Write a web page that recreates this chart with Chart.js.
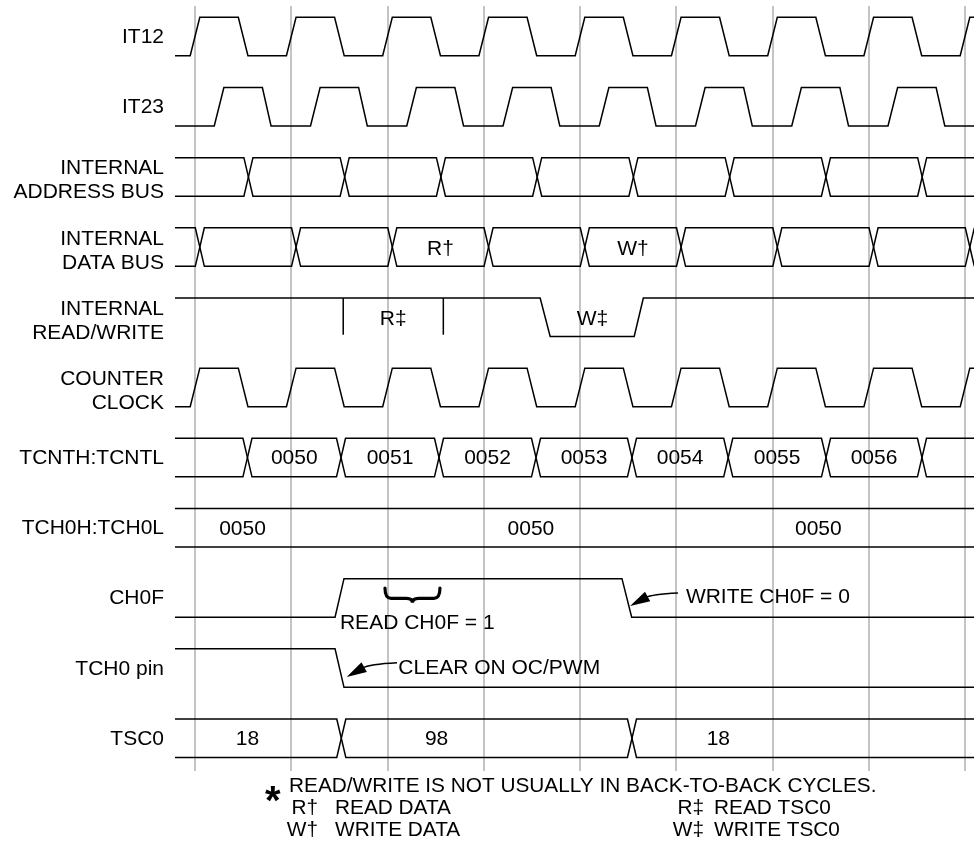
<!DOCTYPE html>
<html>
<head>
<meta charset="utf-8">
<script src="https://cdn.jsdelivr.net/npm/chart.js@4"></script>
<style>
html,body{margin:0;padding:0;background:#fff;}
canvas{display:block;}
</style>
</head>
<body>
<canvas id="c" width="977" height="852"></canvas>
<script>
// ================= DATA (time in bus cycles, levels 1 = high / 0 = low) =================
const gridCycles = [0, 1, 2, 3, 4, 5, 6, 7, 8];

const signalNames = [
  ['IT12'], ['IT23'], ['INTERNAL', 'ADDRESS BUS'], ['INTERNAL', 'DATA BUS'],
  ['INTERNAL', 'READ/WRITE'], ['COUNTER', 'CLOCK'], ['TCNTH:TCNTL'], ['TCH0H:TCH0L'],
  ['CH0F'], ['TCH0 pin'], ['TSC0']
];

// digital signals: [start, end] of each transition; the level toggles at each one
const it12Edges = [[-0.05,0.05],[0.45,0.55],[0.95,1.05],[1.45,1.55],[1.95,2.05],[2.45,2.55],[2.95,3.05],[3.45,3.55],
                   [3.95,4.05],[4.45,4.55],[4.95,5.05],[5.45,5.55],[5.95,6.05],[6.45,6.55],[6.95,7.05],[7.45,7.55],[7.95,8.05]];
const it12Start = 0;
const it23Edges = [[0.2,0.3],[0.7,0.79],[1.2,1.3],[1.7,1.79],[2.2,2.3],[2.7,2.79],[3.2,3.3],[3.7,3.79],
                   [4.2,4.3],[4.7,4.79],[5.2,5.3],[5.7,5.79],[6.2,6.3],[6.7,6.79],[7.2,7.3],[7.7,7.79]];
const it23Start = 0;
const counterClockEdges = [[-0.05,0.05],[0.45,0.55],[0.95,1.05],[1.45,1.55],[1.95,2.05],[2.45,2.55],[2.95,3.05],[3.45,3.55],
                   [3.95,4.05],[4.45,4.55],[4.95,5.05],[5.45,5.55],[5.95,6.05],[6.45,6.55],[6.95,7.05],[7.45,7.55],[7.95,8.05]];
const counterClockStart = 0;
const rwEdges = [[3.586,3.69],[4.563,4.658]];
const rwStart = 1;
const rwReadMarks = [1.54, 2.58];
const rwLabels = ['R‡', 'W‡'];
const rwLabelTimes = [2.06, 4.13];
const ch0fEdges = [[1.455,1.548],[4.436,4.537]];
const ch0fStart = 0;
const pinEdges = [[1.455,1.548]];
const pinStart = 1;

// buses: centre time of each value change
const addrChanges = [0.555, 1.555, 2.555, 3.555, 4.555, 5.555, 6.555, 7.555];
const dataChanges = [0.05, 1.05, 2.05, 3.05, 4.05, 5.05, 6.05, 7.05, 8.05];
const dataBusLabels = ['', '', 'R†', '', 'W†', '', '', ''];
const tcntChanges = [0.545, 1.517, 2.535, 3.543, 4.54, 5.54, 6.556, 7.553];
const tcntValues = ['0050', '0051', '0052', '0053', '0054', '0055', '0056'];
const tch0Changes = [];
const tch0Values = ['0050', '0050', '0050'];
const tch0LabelTimes = [0.494, 3.49, 6.476];
const tsc0Changes = [1.52, 4.54];
const tsc0Values = ['18', '98', '18'];
const tsc0LabelTimes = [0.545, 2.51, 5.437];

// callouts (time, row-level units)
const braceSpan = [1.974, 2.545];
const calloutTexts = ['READ CH0F = 1', 'WRITE CH0F = 0', 'CLEAR ON OC/PWM'];
const calloutTimes = [1.506, 5.10, 2.112];
const calloutLevels = [8.613, 8.233, 9.245];
const arrowFrom = [[5.018, 8.204], [2.099, 9.20]];
const arrowTo = [[4.52, 8.39], [1.576, 9.40]];

const footNote = 'READ/WRITE IS NOT USUALLY IN BACK-TO-BACK CYCLES.';
const footKeys = [['R†', 'READ DATA'], ['W†', 'WRITE DATA'], ['R‡', 'READ TSC0'], ['W‡', 'WRITE TSC0']];

// ================= BUILD =================
const X_MIN = -0.2078, X_MAX = 8.0935;
const Y_MIN = -0.161, Y_MAX = 10.741;
const AMP = 0.5487;     // swing of a signal, in row units
const BUS_HALF = 0.047;
const FONT = '"Liberation Sans", Arial, Helvetica, sans-serif';

const lvl = (row, level) => row + (1 - level) * AMP;

function digital(row, start, edges) {
  let L = start;
  const pts = [{x: X_MIN, y: lvl(row, L)}];
  edges.forEach(([a, b]) => {
    pts.push({x: a, y: lvl(row, L)});
    L = 1 - L;
    pts.push({x: b, y: lvl(row, L)});
  });
  pts.push({x: X_MAX, y: lvl(row, L)});
  return pts;
}
function bus(row, changes) {
  let a = 1;
  const A = [{x: X_MIN, y: lvl(row, 1)}], B = [{x: X_MIN, y: lvl(row, 0)}];
  changes.forEach(c => {
    A.push({x: c - BUS_HALF, y: lvl(row, a)});
    B.push({x: c - BUS_HALF, y: lvl(row, 1 - a)});
    a = 1 - a;
    A.push({x: c + BUS_HALF, y: lvl(row, a)});
    B.push({x: c + BUS_HALF, y: lvl(row, 1 - a)});
  });
  A.push({x: X_MAX, y: lvl(row, a)});
  B.push({x: X_MAX, y: lvl(row, 1 - a)});
  return [A, B];
}
const line = (data) => ({data, showLine: true, borderColor: '#000', borderWidth: 1.5, pointRadius: 0, fill: false, tension: 0});

const datasets = [];
datasets.push(line(digital(0, it12Start, it12Edges)));
datasets.push(line(digital(1, it23Start, it23Edges)));
bus(2, addrChanges).forEach(d => datasets.push(line(d)));
bus(3, dataChanges).forEach(d => datasets.push(line(d)));
datasets.push(line(digital(4, rwStart, rwEdges)));
rwReadMarks.forEach(t => datasets.push(line([{x: t, y: lvl(4, 1)}, {x: t, y: lvl(4, 0) - 0.025}])));
datasets.push(line(digital(5, counterClockStart, counterClockEdges)));
bus(6, tcntChanges).forEach(d => datasets.push(line(d)));
bus(7, tch0Changes).forEach(d => datasets.push(line(d)));
datasets.push(line(digital(8, ch0fStart, ch0fEdges)));
datasets.push(line(digital(9, pinStart, pinEdges)));
bus(10, tsc0Changes).forEach(d => datasets.push(line(d)));

function drawText(ctx, s, x, capY, align, size, sx) {
  ctx.save();
  ctx.font = size + 'px ' + FONT;
  ctx.fillStyle = '#000';
  ctx.textBaseline = 'alphabetic';
  ctx.textAlign = align;
  ctx.translate(x, capY + 0.358 * size);
  if (sx) ctx.scale(sx, 1);
  ctx.fillText(s, 0, 0);
  ctx.restore();
}

const annotate = {
  id: 'annotate',
  afterDatasetsDraw(chart) {
    const {ctx, scales: {x, y}} = chart;
    const X = v => x.getPixelForValue(v), Y = v => y.getPixelForValue(v);
    const mid = row => Y(row + AMP / 2);
    ctx.save();

    // row names
    signalNames.forEach((lines, i) => {
      const offs = lines.length === 1 ? [-1] : [-10, 14];
      lines.forEach((s, j) => drawText(ctx, s, 164, mid(i) + offs[j], 'right', 21));
    });

    // bus values
    dataBusLabels.forEach((s, i) => { if (s) drawText(ctx, s, X((dataChanges[i] + dataChanges[i + 1]) / 2), mid(3), 'center', 21); });
    rwLabels.forEach((s, i) => drawText(ctx, s, X(rwLabelTimes[i]), mid(4), 'center', 21));
    tcntValues.forEach((s, i) => drawText(ctx, s, X((tcntChanges[i] + tcntChanges[i + 1]) / 2), mid(6) - 1, 'center', 21));
    tch0Values.forEach((s, i) => drawText(ctx, s, X(tch0LabelTimes[i]), mid(7), 'center', 21));
    tsc0Values.forEach((s, i) => drawText(ctx, s, X(tsc0LabelTimes[i]), mid(10) - 1, 'center', 21));

    // callout texts
    calloutTexts.forEach((s, i) => drawText(ctx, s, X(calloutTimes[i]), Y(calloutLevels[i]), 'left', 21));

    // arrows
    ctx.strokeStyle = '#000'; ctx.fillStyle = '#000'; ctx.lineWidth = 1.5;
    arrowFrom.forEach((f, i) => {
      const S = {x: X(f[0]), y: Y(f[1])}, T = {x: X(arrowTo[i][0]), y: Y(arrowTo[i][1])};
      const C = {x: T.x + 0.45 * (S.x - T.x), y: S.y + 0.1 * (T.y - S.y)};
      let dx = T.x - C.x, dy = T.y - C.y; const len = Math.hypot(dx, dy); dx /= len; dy /= len;
      const hl = 20, hw = 5.5;
      const B = {x: T.x - dx * hl, y: T.y - dy * hl};
      ctx.beginPath(); ctx.moveTo(S.x, S.y);
      ctx.quadraticCurveTo(C.x, C.y, B.x + dx * 2, B.y + dy * 2); ctx.stroke();
      ctx.beginPath(); ctx.moveTo(T.x, T.y);
      ctx.lineTo(B.x - dy * hw, B.y + dx * hw);
      ctx.lineTo(B.x + dy * hw, B.y - dx * hw);
      ctx.closePath(); ctx.fill();
    });

    // brace over "READ CH0F = 1"
    const x1 = X(braceSpan[0]), x2 = X(braceSpan[1]), m = (x1 + x2) / 2;
    const yt = Y(8.133), yb = Y(8.28), tip = Y(8.345);
    ctx.lineWidth = 3.2; ctx.lineCap = 'round';
    ctx.beginPath();
    ctx.moveTo(x1, yt);
    ctx.quadraticCurveTo(x1, yb, x1 + 6, yb);
    ctx.lineTo(m - 6, yb);
    ctx.quadraticCurveTo(m, yb, m, tip);
    ctx.quadraticCurveTo(m, yb, m + 6, yb);
    ctx.lineTo(x2 - 6, yb);
    ctx.quadraticCurveTo(x2, yb, x2, yt);
    ctx.stroke();

    // footnotes
    ctx.font = 'bold 40px ' + FONT;
    const mm = ctx.measureText('*');
    const inkW = mm.actualBoundingBoxLeft + mm.actualBoundingBoxRight;
    const fs = 40 * 16 / inkW;
    ctx.font = 'bold ' + fs + 'px ' + FONT;
    ctx.textAlign = 'left'; ctx.textBaseline = 'alphabetic';
    const m2 = ctx.measureText('*');
    const cx = (m2.actualBoundingBoxRight - m2.actualBoundingBoxLeft) / 2;
    const cy = (m2.actualBoundingBoxAscent - m2.actualBoundingBoxDescent) / 2;
    ctx.fillText('*', 273 - cx, 794 + cy);

    drawText(ctx, footNote, 289, 785, 'left', 20.8);
    [[0, 806.7], [1, 828.5]].forEach(([k, yy]) => {
      drawText(ctx, footKeys[k][0], 318, yy, 'right', 20.8);
      drawText(ctx, footKeys[k][1], 335, yy, 'left', 20.8);
    });
    [[2, 806.7], [3, 828.5]].forEach(([k, yy]) => {
      drawText(ctx, footKeys[k][0], 704, yy, 'right', 20.8);
      drawText(ctx, footKeys[k][1], 714, yy, 'left', 20.8);
    });
    ctx.restore();
  }
};

new Chart(document.getElementById('c'), {
  type: 'scatter',
  data: {datasets},
  options: {
    responsive: false,
    animation: false,
    devicePixelRatio: 1,
    layout: {padding: {left: 175, right: 3, top: 6, bottom: 81}},
    plugins: {legend: {display: false}, tooltip: {enabled: false}},
    scales: {
      x: {
        type: 'linear', min: X_MIN, max: X_MAX, display: true,
        afterBuildTicks: s => { s.ticks = gridCycles.map(v => ({value: v})); },
        ticks: {display: false},
        border: {display: false},
        grid: {color: '#c4c4c4', lineWidth: 2, drawTicks: false}
      },
      y: {type: 'linear', min: Y_MIN, max: Y_MAX, reverse: true, display: false}
    }
  },
  plugins: [annotate]
});
</script>
</body>
</html>
